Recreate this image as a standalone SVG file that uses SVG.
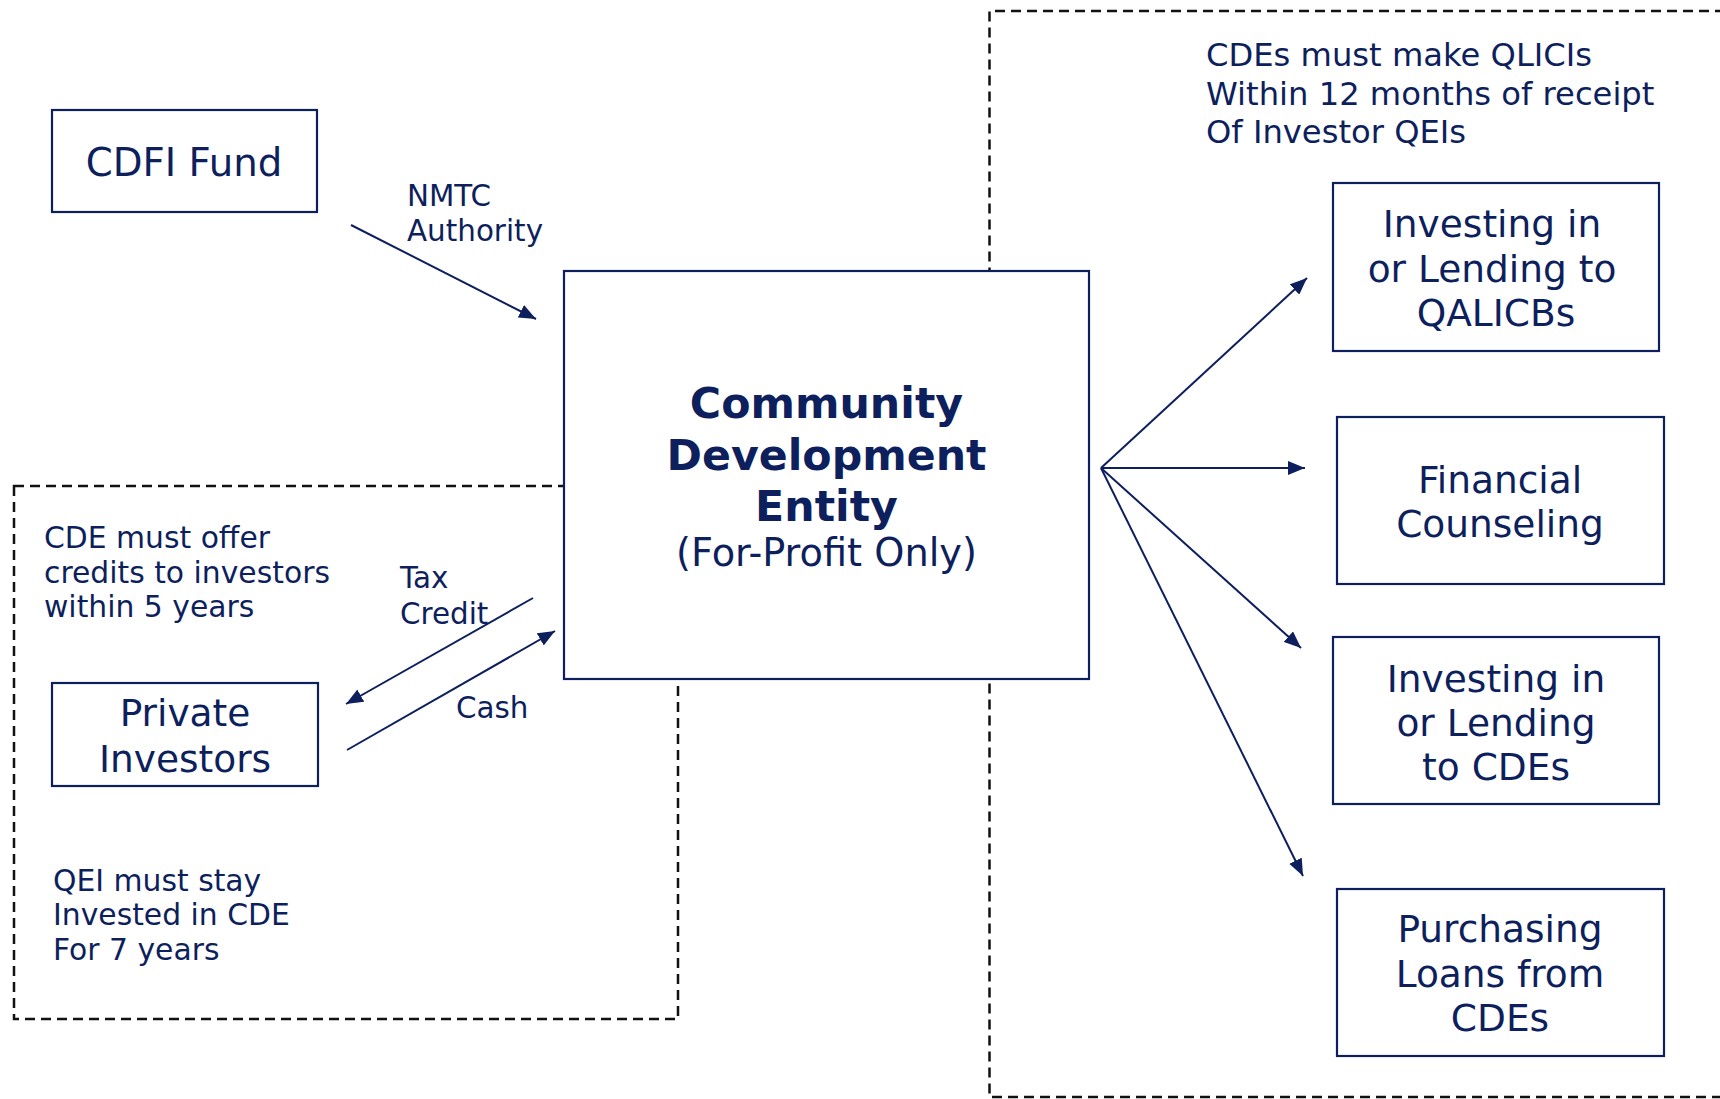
<svg xmlns="http://www.w3.org/2000/svg" width="1720" height="1099" viewBox="0 0 1720 1099">
<style>
text{font-family:"DejaVu Sans","Liberation Sans",sans-serif;fill:#0d1f5c}
.box{fill:#fff;stroke:#0d1f5c;stroke-width:2.2}
.dash{fill:none;stroke:#111;stroke-width:2.5;stroke-dasharray:10 6}
.conn{stroke:#0d1f5c;stroke-width:2;fill:none;marker-end:url(#arr)}
.node{font-size:37.5px;text-anchor:middle}
.note{font-size:29.8px}
.lbl{font-size:29.4px}
.big{font-size:32.2px}
.title{font-size:42.7px;font-weight:bold;text-anchor:middle}
</style>
<defs>
<marker id="arr" markerUnits="userSpaceOnUse" markerWidth="18" markerHeight="14" refX="17" refY="7" orient="auto">
<path d="M0,0 L17,7 L0,14 z" fill="#0d1f5c"/>
</marker>
</defs>
<g id="regions">
<rect class="dash" x="14" y="486" width="664" height="533"/>
<path class="dash" d="M1725,11 H989.5 V1097 H1725"/>
</g>
<g id="connectors">
<line class="conn" x1="351" y1="225" x2="536" y2="319"/>
<line class="conn" x1="533" y1="598" x2="346" y2="704"/>
<line class="conn" x1="347" y1="750" x2="555" y2="631"/>
<line class="conn" x1="1101" y1="468" x2="1307" y2="278"/>
<line class="conn" x1="1101" y1="468" x2="1305" y2="468"/>
<line class="conn" x1="1101" y1="468" x2="1301" y2="648"/>
<line class="conn" x1="1101" y1="468" x2="1303" y2="876"/>
</g>
<g id="labels">
<text class="lbl" x="407" y="206">NMTC</text>
<text class="lbl" x="407" y="241">Authority</text>
<text class="lbl" x="400" y="588">Tax</text>
<text class="lbl" x="400" y="624">Credit</text>
<text class="lbl" x="456" y="718">Cash</text>
<text class="note" x="44" y="548">CDE must offer</text>
<text class="note" x="44" y="583">credits to investors</text>
<text class="note" x="44" y="617">within 5 years</text>
<text class="note" x="53" y="891">QEI must stay</text>
<text class="note" x="53" y="925">Invested in CDE</text>
<text class="note" x="53" y="960">For 7 years</text>
<text class="big" x="1206" y="66">CDEs must make QLICIs</text>
<text class="big" x="1206" y="105">Within 12 months of receipt</text>
<text class="big" x="1206" y="143">Of Investor QEIs</text>
</g>
<g id="cdfi">
<rect class="box" x="52" y="110" width="265" height="102"/>
<text class="node" x="184" y="176" style="font-size:38.7px">CDFI Fund</text>
</g>
<g id="cde">
<rect class="box" x="564" y="271" width="525" height="408"/>
<text class="title" x="826.5" y="418">Community</text>
<text class="title" x="826.5" y="470">Development</text>
<text class="title" x="826.5" y="521">Entity</text>
<text x="826.5" y="566" style="font-size:38.3px;text-anchor:middle">(For-Profit Only)</text>
</g>
<g id="private-investors">
<rect class="box" x="52" y="683" width="266" height="103"/>
<text class="node" x="185" y="726">Private</text>
<text class="node" x="185" y="772">Investors</text>
</g>
<g id="qalicbs">
<rect class="box" x="1333" y="183" width="326" height="168"/>
<text class="node" x="1492" y="237">Investing in</text>
<text class="node" x="1492" y="282">or Lending to</text>
<text class="node" x="1496" y="326">QALICBs</text>
</g>
<g id="financial-counseling">
<rect class="box" x="1337" y="417" width="327" height="167"/>
<text class="node" x="1500" y="493">Financial</text>
<text class="node" x="1500" y="537">Counseling</text>
</g>
<g id="lending-cdes">
<rect class="box" x="1333" y="637" width="326" height="167"/>
<text class="node" x="1496" y="692">Investing in</text>
<text class="node" x="1496" y="736">or Lending</text>
<text class="node" x="1496" y="780">to CDEs</text>
</g>
<g id="purchasing-loans">
<rect class="box" x="1337" y="889" width="327" height="167"/>
<text class="node" x="1500" y="942">Purchasing</text>
<text class="node" x="1500" y="987">Loans from</text>
<text class="node" x="1500" y="1031">CDEs</text>
</g>
</svg>
